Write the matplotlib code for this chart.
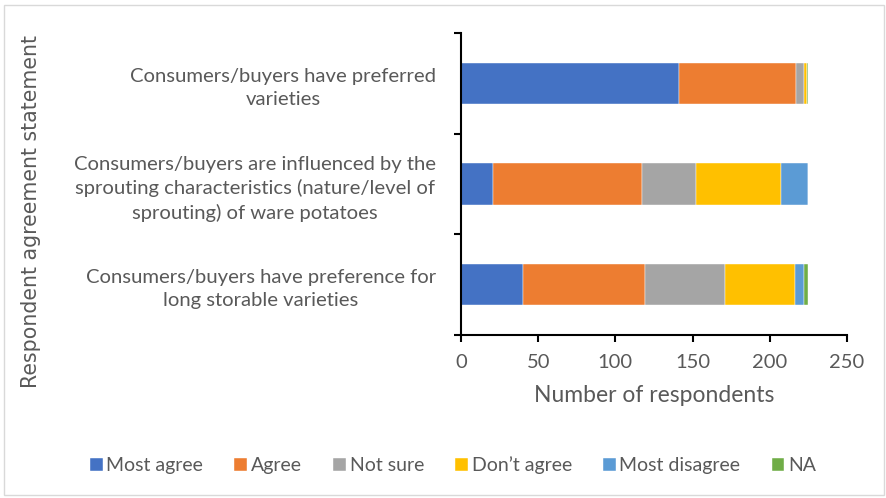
import numpy as np
import matplotlib.pyplot as plt
import matplotlib as mpl
from matplotlib.patches import Rectangle

mpl.rcParams['font.family'] = ['Lato', 'DejaVu Sans']
mpl.rcParams['font.size'] = 14

# statements, bottom to top as drawn
statements = ['Consumers/buyers have preference for\nlong storable varieties',
              'Consumers/buyers are influenced by the\nsprouting characteristics (nature/level of\nsprouting) of ware potatoes',
              'Consumers/buyers have preferred\nvarieties']
responses = ['Most agree', 'Agree', 'Not sure', 'Don\u2019t agree', 'Most disagree', 'NA']
most_agree = [40, 21, 141]
agree = [79, 96, 76]
not_sure = [52, 35, 5]
dont_agree = [45, 55, 2]
most_disagree = [6, 18, 0]
na = [3, 0, 1]
colors = ['#4472C4', '#ED7D31', '#A5A5A5', '#FFC000', '#5B9BD5', '#70AD47']

txt = '#595959'
fig = plt.figure(figsize=(8.87, 4.98), dpi=100)
ax = fig.add_axes([461/887, 1-335/498, 386/887, 302/498])

y = np.arange(len(statements))
left = np.zeros(len(statements))
for vals, lab, c in zip([most_agree, agree, not_sure, dont_agree, most_disagree, na], responses, colors):
    ax.barh(y, vals, left=left, height=0.41, color=c, label=lab, edgecolor='white', linewidth=0.3)
    left += np.array(vals)

ax.set_xlim(0, 250)
ax.set_ylim(-0.5, 2.5)
ax.set_xticks([0, 50, 100, 150, 200, 250])
ax.set_yticks(y)
ax.set_yticklabels(statements, ha='right', multialignment='center', color=txt,
                   fontsize=14.6, linespacing=1.45)
ax.tick_params(axis='y', length=0, pad=18)
ax.set_yticks([-0.5, 0.5, 1.5, 2.5], minor=True)
ax.tick_params(axis='y', which='minor', length=5, width=1.5, color='black')
ax.tick_params(axis='x', length=5, width=1.5, color='black', labelcolor=txt, labelsize=14.5, pad=9)
for s in ['top', 'right']:
    ax.spines[s].set_visible(False)
for s in ['left', 'bottom']:
    ax.spines[s].set_linewidth(1.5)
ax.set_xlabel('Number of respondents', color=txt, fontsize=16.5, labelpad=10)

fig.text(31/887, 1-212/498, 'Respondent agreement statement', rotation=90,
         ha='center', va='center', color=txt, fontsize=14.8, family='DejaVu Sans')

fig.legend(loc='center', bbox_to_anchor=(453/887, 1-465/498), ncol=6, frameon=False,
           handlelength=0.65, handleheight=0.65, handletextpad=0.2, columnspacing=1.6,
           fontsize=14, labelcolor=txt)

fig.patches.append(Rectangle((4/887, 3/498), 880/887, 490/498, transform=fig.transFigure,
                             fill=False, edgecolor='#D9D9D9', linewidth=1))

fig.savefig('out.png', dpi=100)
